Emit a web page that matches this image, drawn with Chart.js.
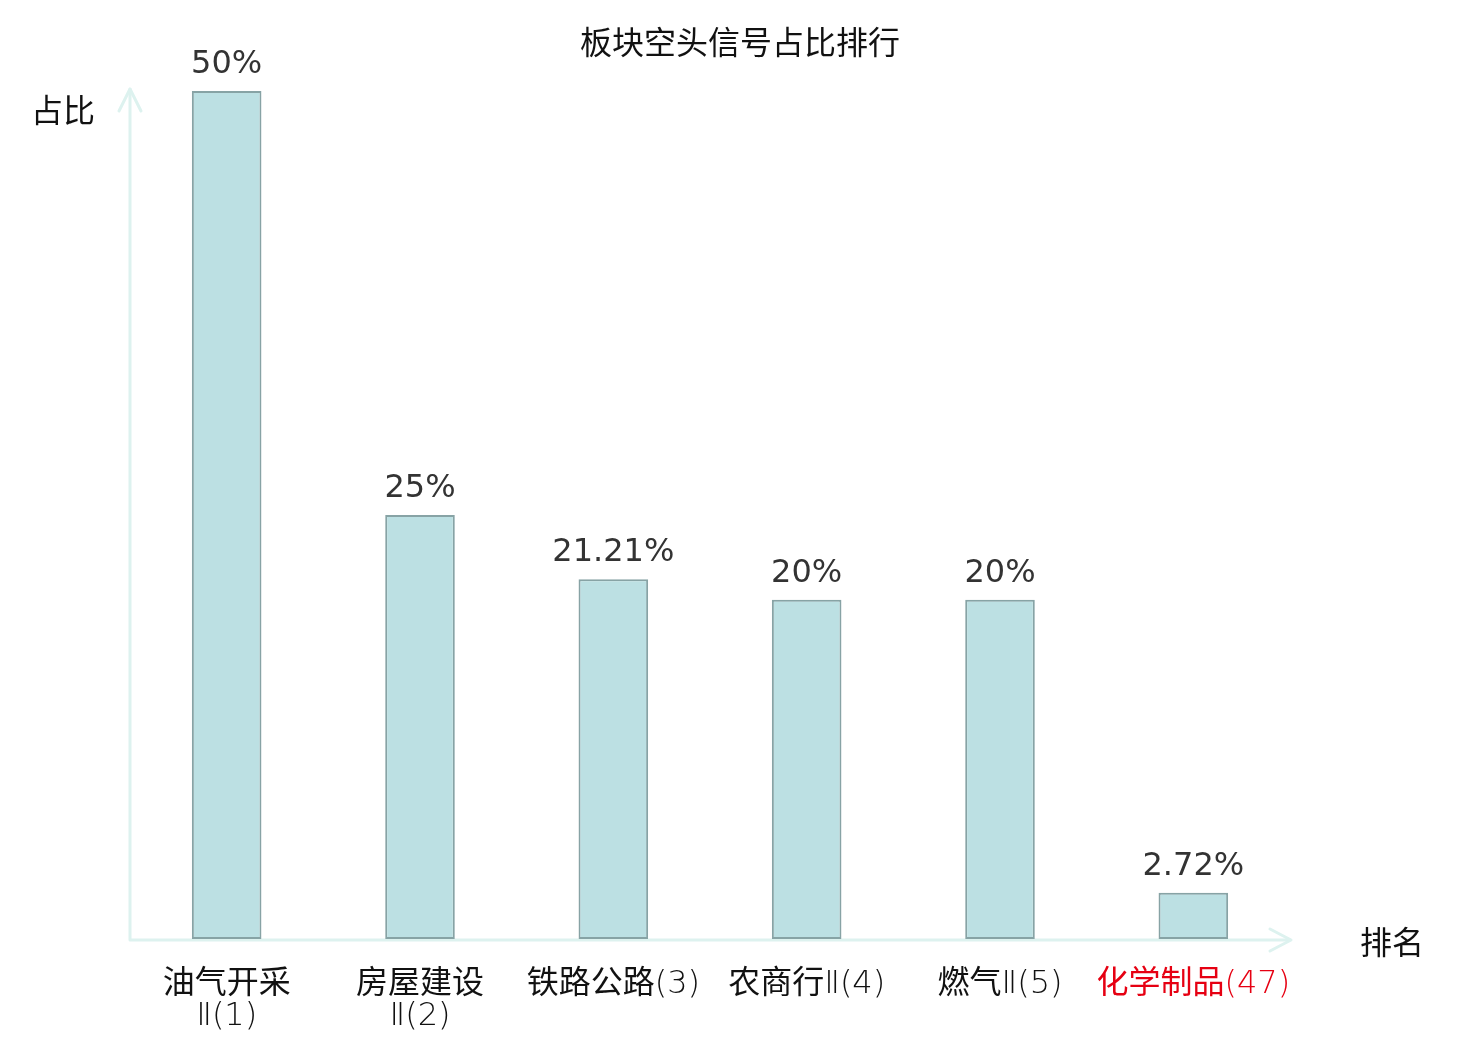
<!DOCTYPE html>
<html>
<head>
<meta charset="utf-8">
<script src="https://cdn.jsdelivr.net/npm/chart.js@4.4.1/dist/chart.umd.min.js"></script>
<style>
  html, body { margin: 0; padding: 0; background: #fff; }
  #wrap { width: 1480px; height: 1040px; position: relative; }
</style>
</head>
<body>
<div id="wrap"><canvas id="c"></canvas></div>
<script>
const titleText = '板块空头信号占比排行';
const yAxisName = '占比';
const xAxisName = '排名';
const categories = [['油气开采', 'Ⅱ(1)'], ['房屋建设', 'Ⅱ(2)'], '铁路公路(3)', '农商行Ⅱ(4)', '燃气Ⅱ(5)', '化学制品(47)'];
const shareValues = [50, 25, 21.21, 20, 20, 2.72];
const valueLabels = ['50%', '25%', '21.21%', '20%', '20%', '2.72%'];
const highlightIndex = [5];

const AXIS_COLOR = '#ddf2ef';
const CJK = '"Noto Sans CJK SC", "Noto Sans", sans-serif';
const TICK_FAMILY = '"DejaVu Sans ExtraLight", "DejaVu Sans Light", "Noto Sans CJK SC", sans-serif';

const decorPlugin = {
  id: 'decor',
  beforeDatasetsDraw(chart) {
    const ctx = chart.ctx;
    const area = chart.chartArea;
    ctx.save();
    ctx.strokeStyle = AXIS_COLOR;
    ctx.lineWidth = 3;
    ctx.lineCap = 'round';
    ctx.lineJoin = 'round';
    const yb = area.bottom + 1;
    ctx.beginPath();
    ctx.moveTo(area.left, yb);
    ctx.lineTo(area.left, area.top - 2);
    ctx.moveTo(area.left, yb);
    ctx.lineTo(area.right, yb);
    ctx.stroke();
    ctx.beginPath();
    ctx.moveTo(area.left - 11, area.top + 20);
    ctx.lineTo(area.left, area.top - 2);
    ctx.lineTo(area.left + 11, area.top + 20);
    ctx.moveTo(area.right - 20, yb - 11);
    ctx.lineTo(area.right + 1, yb);
    ctx.lineTo(area.right - 20, yb + 11);
    ctx.stroke();
    ctx.restore();
  },
  afterDatasetsDraw(chart) {
    const ctx = chart.ctx;
    ctx.save();
    const meta = chart.getDatasetMeta(0);
    ctx.fillStyle = '#333';
    ctx.font = '32px "DejaVu Sans", sans-serif';
    ctx.textAlign = 'center';
    ctx.textBaseline = 'alphabetic';
    meta.data.forEach((bar, i) => {
      ctx.fillText(valueLabels[i], bar.x, bar.y - 18);
    });

    ctx.fillStyle = '#111';
    ctx.font = '32px ' + CJK;
    ctx.textBaseline = 'middle';
    ctx.fillText(titleText, chart.width / 2, 42);
    ctx.fillText(yAxisName, 63, 110);
    ctx.fillText(xAxisName, 1392, 942);
    ctx.restore();
  }
};

new Chart(document.getElementById('c'), {
  type: 'bar',
  data: {
    labels: categories,
    datasets: [{
      data: shareValues,
      backgroundColor: '#bce0e3',
      borderColor: '#87a3a5',
      borderWidth: 2,
      borderSkipped: false,
      barPercentage: 0.36,
      categoryPercentage: 1
    }]
  },
  options: {
    responsive: true,
    maintainAspectRatio: false,
    devicePixelRatio: 1,
    animation: false,
    layout: { padding: { left: 130, right: 190, top: 91, bottom: 0 } },
    plugins: {
      legend: { display: false },
      title: { display: false },
      tooltip: { enabled: false }
    },
    scales: {
      x: {
        grid: { display: false, drawTicks: false },
        border: { display: false },
        afterFit(scale) { scale.height = 101; },
        ticks: {
          padding: 30,
          maxRotation: 0,
          autoSkip: false,
          font: { family: TICK_FAMILY, size: 32, lineHeight: 32 / 32 },
          color: (c) => highlightIndex.includes(c.index) ? '#e60012' : '#111'
        }
      },
      y: {
        display: false,
        min: 0,
        max: 50
      }
    }
  },
  plugins: [decorPlugin]
});
</script>
</body>
</html>
